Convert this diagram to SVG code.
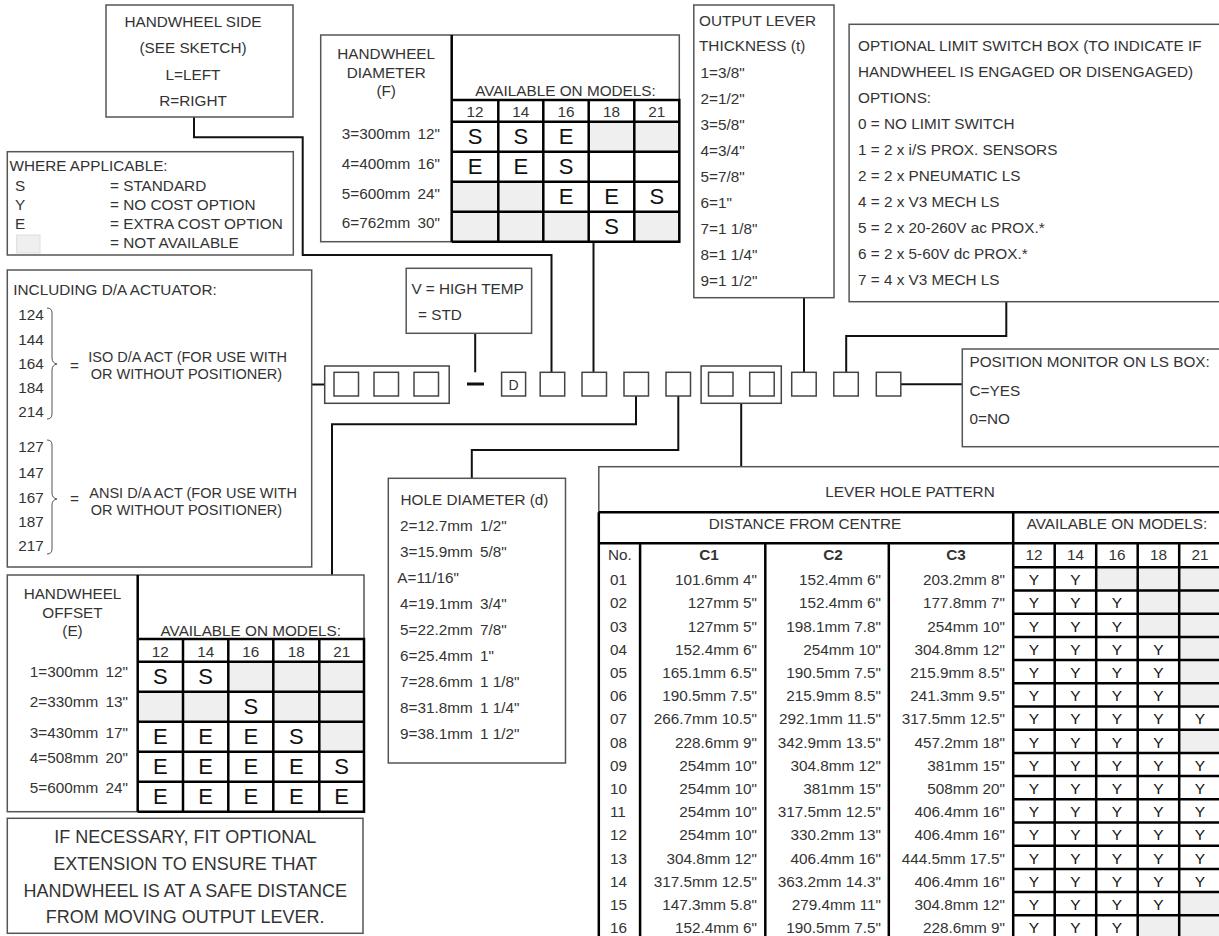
<svg xmlns="http://www.w3.org/2000/svg" width="1219" height="936" viewBox="0 0 1219 936">
<defs>
<style>
text{font-family:"Liberation Sans",Arial,Helvetica,sans-serif;font-size:15.3px;fill:#333}
.m{text-anchor:middle}
.e{text-anchor:end}
.b{font-weight:bold}
.s15{font-size:14.5px}
.L{font-size:22px;fill:#111;text-anchor:middle}
.Y{font-size:15.5px;fill:#111;text-anchor:middle}
.n{font-size:18px;text-anchor:middle}
.box{fill:#fff;stroke:#555;stroke-width:1.5}
.sq{fill:#fff;stroke:#444;stroke-width:1.5}
.g{fill:#efefef}
.k{fill:none;stroke:#000;stroke-width:2.5}
.conn{fill:none;stroke:#111;stroke-width:2}
.br{fill:none;stroke:#555;stroke-width:1}
</style>
</defs>
<rect width="1219" height="936" fill="#fff"/>

<g id="connectors" class="conn">
<polyline points="194,117 194,137.3 302.7,137.3 302.7,255 551.5,255 551.5,372.3"/>
<line x1="593.5" y1="241.7" x2="593.5" y2="372.3"/>
<line x1="475.2" y1="333.3" x2="475.2" y2="372.3"/>
<line x1="311.7" y1="384.5" x2="324.7" y2="384.5"/>
<polyline points="636,396 636,424.3 332,424.3 332,575"/>
<polyline points="678.3,396 678.3,450 471.8,450 471.8,478.3"/>
<line x1="741.2" y1="403.3" x2="741.2" y2="466.7"/>
<line x1="804" y1="297.7" x2="804" y2="372.3"/>
<polyline points="1006.3,301.7 1006.3,336 846.2,336 846.2,372.3"/>
<line x1="900.6" y1="384.3" x2="962.3" y2="384.3"/>
</g>

<g id="handwheel-side">
<rect class="box" x="106" y="5" width="187" height="112"/>
<text class="m" x="193" y="27">HANDWHEEL SIDE</text>
<text class="m" x="193" y="53">(SEE SKETCH)</text>
<text class="m" x="193" y="80">L=LEFT</text>
<text class="m" x="193" y="106">R=RIGHT</text>
</g>

<g id="legend">
<rect class="box" x="7.3" y="151.7" width="286" height="103.3"/>
<text x="9.5" y="170.5">WHERE APPLICABLE:</text>
<text x="15" y="190.5">S</text><text x="110" y="190.5">= STANDARD</text>
<text x="15" y="209.5">Y</text><text x="110" y="209.5">= NO COST OPTION</text>
<text x="15" y="228.5">E</text><text x="110" y="228.5">= EXTRA COST OPTION</text>
<rect x="16.7" y="235" width="23.3" height="18" fill="#efefef" stroke="#ddd" stroke-width="1"/>
<text x="110" y="248">= NOT AVAILABLE</text>
</g>

<g id="handwheel-diameter">
<rect class="box" x="320.7" y="35" width="358.6" height="206.7"/>
<rect class="g" x="588.7" y="121.7" width="90.6" height="30"/>
<rect class="g" x="451.7" y="181.7" width="91.6" height="30"/>
<rect class="g" x="451.7" y="211.7" width="137" height="30"/>
<rect class="g" x="634.3" y="211.7" width="45" height="30"/>
<path class="k" d="M451.7,35V241.7M451.7,100H679.3V241.7H451.7M451.7,121.7H679.3M451.7,151.7H679.3M451.7,181.7H679.3M451.7,211.7H679.3M498.3,100V241.7M543.3,100V241.7M588.7,100V241.7M634.3,100V241.7"/>
<text class="m" x="386.2" y="59.3">HANDWHEEL</text>
<text class="m" x="386.2" y="77.7">DIAMETER</text>
<text class="m" x="386.2" y="96">(F)</text>
<text class="m" x="565.5" y="96">AVAILABLE ON MODELS:</text>
<text class="m" x="475" y="116.7">12</text>
<text class="m" x="520.8" y="116.7">14</text>
<text class="m" x="566" y="116.7">16</text>
<text class="m" x="611.5" y="116.7">18</text>
<text class="m" x="656.8" y="116.7">21</text>
<text class="e" x="440" y="139">3=300mm <tspan dx="3">12"</tspan></text>
<text class="e" x="440" y="169">4=400mm <tspan dx="3">16"</tspan></text>
<text class="e" x="440" y="199">5=600mm <tspan dx="3">24"</tspan></text>
<text class="e" x="440" y="228">6=762mm <tspan dx="3">30"</tspan></text>
<text class="L" x="475" y="143.7">S</text>
<text class="L" x="520.8" y="143.7">S</text>
<text class="L" x="566" y="143.7">E</text>
<text class="L" x="475" y="173.7">E</text>
<text class="L" x="520.8" y="173.7">E</text>
<text class="L" x="566" y="173.7">S</text>
<text class="L" x="566" y="203.7">E</text>
<text class="L" x="611.5" y="203.7">E</text>
<text class="L" x="656.8" y="203.7">S</text>
<text class="L" x="611.5" y="233.7">S</text>
</g>

<g id="output-lever">
<rect class="box" x="693.8" y="5" width="140.2" height="292.7"/>
<text x="699" y="26">OUTPUT LEVER</text>
<text x="699" y="51">THICKNESS (t)</text>
<text x="700.6" y="77.5">1=3/8"</text>
<text x="700.6" y="103.5">2=1/2"</text>
<text x="700.6" y="129.5">3=5/8"</text>
<text x="700.6" y="155.5">4=3/4"</text>
<text x="700.6" y="181.5">5=7/8"</text>
<text x="700.6" y="207.5">6=1"</text>
<text x="700.6" y="233.5">7=1 1/8"</text>
<text x="700.6" y="259.5">8=1 1/4"</text>
<text x="700.6" y="285.5">9=1 1/2"</text>
</g>

<g id="limit-switch">
<rect class="box" x="849.1" y="24.3" width="380" height="277.4"/>
<text x="858" y="50.5">OPTIONAL LIMIT SWITCH BOX (TO INDICATE IF</text>
<text x="858" y="76.5">HANDWHEEL IS ENGAGED OR DISENGAGED)</text>
<text x="858" y="102.5">OPTIONS:</text>
<text x="858" y="128.5">0 = NO LIMIT SWITCH</text>
<text x="858" y="154.5">1 = 2 x i/S PROX. SENSORS</text>
<text x="858" y="180.5">2 = 2 x PNEUMATIC LS</text>
<text x="858" y="206.5">4 = 2 x V3 MECH LS</text>
<text x="858" y="232.5">5 = 2 x 20-260V ac PROX.*</text>
<text x="858" y="258.5">6 = 2 x 5-60V dc PROX.*</text>
<text x="858" y="284.5">7 = 4 x V3 MECH LS</text>
</g>

<g id="actuator">
<rect class="box" x="7.3" y="270" width="304.4" height="297"/>
<text x="13.3" y="295">INCLUDING D/A ACTUATOR:</text>
<text x="18.3" y="320">124</text>
<text x="18.3" y="344.5">144</text>
<text x="18.3" y="368.5">164</text>
<text x="18.3" y="392.5">184</text>
<text x="18.3" y="417">214</text>
<path class="br" d="M47,308Q52,308 52,313V358Q52,363 57,364Q52,365 52,370V414Q52,419 47,419"/>
<text x="70" y="371">=</text>
<text class="s15" x="88.3" y="362">ISO D/A ACT (FOR USE WITH</text>
<text class="s15" x="90.7" y="378.5">OR WITHOUT POSITIONER)</text>
<text x="18.3" y="452">127</text>
<text x="18.3" y="478">147</text>
<text x="18.3" y="503">167</text>
<text x="18.3" y="527">187</text>
<text x="18.3" y="551">217</text>
<path class="br" d="M47,440Q52,440 52,445V493Q52,498 57,499Q52,500 52,505V549Q52,554 47,554"/>
<text x="70" y="504">=</text>
<text class="s15" x="89.3" y="498">ANSI D/A ACT (FOR USE WITH</text>
<text class="s15" x="90.7" y="514.5">OR WITHOUT POSITIONER)</text>
</g>

<g id="high-temp">
<rect class="box" x="406.2" y="268.3" width="125.4" height="65"/>
<text x="411.4" y="294.3">V = HIGH TEMP</text>
<text x="418" y="320">= STD</text>
</g>

<g id="code-actuator">
<rect class="sq" x="324.7" y="366" width="124.5" height="37.3"/>
<rect class="sq" x="334" y="372.3" width="24.5" height="23.7"/>
<rect class="sq" x="374" y="372.3" width="24.5" height="23.7"/>
<rect class="sq" x="414" y="372.3" width="24.5" height="23.7"/>
</g>
<g id="code-dash">
<line x1="467" y1="384" x2="484" y2="384" stroke="#111" stroke-width="3"/>
</g>
<g id="code-d">
<rect class="sq" x="501.6" y="372.3" width="24" height="23.7"/>
<text class="m" x="513.6" y="389.5" style="font-size:14px">D</text>
</g>
<g id="code-side"><rect class="sq" x="540.2" y="372.3" width="24.5" height="23.7"/></g>
<g id="code-diameter"><rect class="sq" x="582" y="372.3" width="24.5" height="23.7"/></g>
<g id="code-offset"><rect class="sq" x="624" y="372.3" width="24.5" height="23.7"/></g>
<g id="code-hole"><rect class="sq" x="666" y="372.3" width="24.5" height="23.7"/></g>
<g id="code-pattern">
<rect class="sq" x="701.1" y="366" width="80.2" height="37.3"/>
<rect class="sq" x="708.5" y="372.3" width="24.5" height="23.7"/>
<rect class="sq" x="749.7" y="372.3" width="24.5" height="23.7"/>
</g>
<g id="code-thickness"><rect class="sq" x="791.7" y="372.3" width="24.5" height="23.7"/></g>
<g id="code-limit"><rect class="sq" x="833.8" y="372.3" width="24.5" height="23.7"/></g>
<g id="code-monitor"><rect class="sq" x="876.3" y="372.3" width="24.5" height="23.7"/></g>

<g id="position-monitor">
<rect class="box" x="962.3" y="349" width="270" height="97.7"/>
<text x="969.5" y="367">POSITION MONITOR ON LS BOX:</text>
<text x="969.5" y="396">C=YES</text>
<text x="969.5" y="424">0=NO</text>
</g>

<g id="hole-diameter">
<rect class="box" x="388.3" y="478.3" width="177.2" height="284.7"/>
<text x="400.5" y="505">HOLE DIAMETER (d)</text>
<text x="400" y="531">2=12.7mm <tspan dx="3">1/2"</tspan></text>
<text x="400" y="557">3=15.9mm <tspan dx="3">5/8"</tspan></text>
<text x="397.3" y="583">A=11/16"</text>
<text x="400" y="609">4=19.1mm <tspan dx="3">3/4"</tspan></text>
<text x="400" y="635">5=22.2mm <tspan dx="3">7/8"</tspan></text>
<text x="400" y="661">6=25.4mm <tspan dx="3">1"</tspan></text>
<text x="400" y="687">7=28.6mm <tspan dx="3">1 1/8"</tspan></text>
<text x="400" y="713">8=31.8mm <tspan dx="3">1 1/4"</tspan></text>
<text x="400" y="739">9=38.1mm <tspan dx="3">1 1/2"</tspan></text>
</g>

<g id="handwheel-offset">
<rect class="box" x="7.3" y="575" width="356.7" height="236.7"/>
<rect class="g" x="228.3" y="661.7" width="135.7" height="30"/>
<rect class="g" x="137.7" y="691.7" width="90.6" height="30"/>
<rect class="g" x="273.3" y="691.7" width="90.7" height="30"/>
<rect class="g" x="319.3" y="721.7" width="44.7" height="30"/>
<path class="k" d="M137.7,575V811.7M137.7,639H364V811.7H137.7M137.7,661.7H364M137.7,691.7H364M137.7,721.7H364M137.7,751.7H364M137.7,781.7H364M183,639V811.7M228.3,639V811.7M273.3,639V811.7M319.3,639V811.7"/>
<text class="m" x="72.5" y="599.3">HANDWHEEL</text>
<text class="m" x="72.5" y="617.5">OFFSET</text>
<text class="m" x="72.5" y="636">(E)</text>
<text class="m" x="250.8" y="636">AVAILABLE ON MODELS:</text>
<text class="m" x="160.3" y="656.7">12</text>
<text class="m" x="205.7" y="656.7">14</text>
<text class="m" x="250.8" y="656.7">16</text>
<text class="m" x="296.3" y="656.7">18</text>
<text class="m" x="341.7" y="656.7">21</text>
<text class="e" x="128" y="677.3">1=300mm <tspan dx="3">12"</tspan></text>
<text class="e" x="128" y="707.3">2=330mm <tspan dx="3">13"</tspan></text>
<text class="e" x="128" y="738">3=430mm <tspan dx="3">17"</tspan></text>
<text class="e" x="128" y="763">4=508mm <tspan dx="3">20"</tspan></text>
<text class="e" x="128" y="792.5">5=600mm <tspan dx="3">24"</tspan></text>
<text class="L" x="160.3" y="683.7">S</text>
<text class="L" x="205.7" y="683.7">S</text>
<text class="L" x="250.8" y="713.7">S</text>
<text class="L" x="160.3" y="743.7">E</text>
<text class="L" x="205.7" y="743.7">E</text>
<text class="L" x="250.8" y="743.7">E</text>
<text class="L" x="296.3" y="743.7">S</text>
<text class="L" x="160.3" y="773.7">E</text>
<text class="L" x="205.7" y="773.7">E</text>
<text class="L" x="250.8" y="773.7">E</text>
<text class="L" x="296.3" y="773.7">E</text>
<text class="L" x="341.7" y="773.7">S</text>
<text class="L" x="160.3" y="803.7">E</text>
<text class="L" x="205.7" y="803.7">E</text>
<text class="L" x="250.8" y="803.7">E</text>
<text class="L" x="296.3" y="803.7">E</text>
<text class="L" x="341.7" y="803.7">E</text>
</g>

<g id="note">
<rect class="box" x="7.3" y="818.3" width="355.7" height="115"/>
<text class="n" x="185.2" y="843.3">IF NECESSARY, FIT OPTIONAL</text>
<text class="n" x="185.2" y="870">EXTENSION TO ENSURE THAT</text>
<text class="n" x="185.2" y="896.7">HANDWHEEL IS AT A SAFE DISTANCE</text>
<text class="n" x="185.2" y="923.3">FROM MOVING OUTPUT LEVER.</text>
</g>

<g id="lever-hole-pattern">
<rect class="box" x="598.8" y="466.7" width="630" height="480"/>
<rect class="g" x="1096.2" y="567.3" width="124.5" height="23.2"/>
<rect class="g" x="1137.7" y="590.5" width="83" height="23.2"/>
<rect class="g" x="1137.7" y="613.7" width="83" height="23.2"/>
<rect class="g" x="1179.2" y="636.9" width="41.5" height="23.2"/>
<rect class="g" x="1179.2" y="660.1" width="41.5" height="23.2"/>
<rect class="g" x="1179.2" y="683.3" width="41.5" height="23.2"/>
<rect class="g" x="1179.2" y="729.7" width="41.5" height="23.2"/>
<rect class="g" x="1179.2" y="892.1" width="41.5" height="23.2"/>
<rect class="g" x="1137.7" y="915.3" width="83" height="23.2"/>
<path class="k" d="M598.8,512.3H1225M598.8,543.3H1225M598.8,512.3V940M640.1,543.3V940M765.3,543.3V940M888.8,543.3V940M1013.2,512.3V940M1054.7,543.3V940M1096.2,543.3V940M1137.7,543.3V940M1179.2,543.3V940M1220.7,543.3V940M1013.2,567.3H1225M1013.2,590.5H1225M1013.2,613.7H1225M1013.2,636.9H1225M1013.2,660.1H1225M1013.2,683.3H1225M1013.2,706.5H1225M1013.2,729.7H1225M1013.2,752.9H1225M1013.2,776.1H1225M1013.2,799.3H1225M1013.2,822.5H1225M1013.2,845.7H1225M1013.2,868.9H1225M1013.2,892.1H1225M1013.2,915.3H1225"/>
<text class="m" x="910" y="497">LEVER HOLE PATTERN</text>
<text class="m" x="805" y="529">DISTANCE FROM CENTRE</text>
<text class="m" x="1117" y="529">AVAILABLE ON MODELS:</text>
<text x="608" y="560">No.</text>
<text class="m b" x="709" y="560">C1</text>
<text class="m b" x="833" y="560">C2</text>
<text class="m b" x="956" y="560">C3</text>
<text class="m" x="1034" y="560">12</text>
<text class="m" x="1075.5" y="560">14</text>
<text class="m" x="1117" y="560">16</text>
<text class="m" x="1158.5" y="560">18</text>
<text class="m" x="1200" y="560">21</text>

<text x="610" y="585.1">01</text><text class="e" x="757" y="585.1">101.6mm 4"</text><text class="e" x="881" y="585.1">152.4mm 6"</text><text class="e" x="1005" y="585.1">203.2mm 8"</text>
<text class="Y" x="1034" y="585.1">Y</text><text class="Y" x="1075.5" y="585.1">Y</text>

<text x="610" y="608.3">02</text><text class="e" x="757" y="608.3">127mm 5"</text><text class="e" x="881" y="608.3">152.4mm 6"</text><text class="e" x="1005" y="608.3">177.8mm 7"</text>
<text class="Y" x="1034" y="608.3">Y</text><text class="Y" x="1075.5" y="608.3">Y</text><text class="Y" x="1117" y="608.3">Y</text>

<text x="610" y="631.5">03</text><text class="e" x="757" y="631.5">127mm 5"</text><text class="e" x="881" y="631.5">198.1mm 7.8"</text><text class="e" x="1005" y="631.5">254mm 10"</text>
<text class="Y" x="1034" y="631.5">Y</text><text class="Y" x="1075.5" y="631.5">Y</text><text class="Y" x="1117" y="631.5">Y</text>

<text x="610" y="654.7">04</text><text class="e" x="757" y="654.7">152.4mm 6"</text><text class="e" x="881" y="654.7">254mm 10"</text><text class="e" x="1005" y="654.7">304.8mm 12"</text>
<text class="Y" x="1034" y="654.7">Y</text><text class="Y" x="1075.5" y="654.7">Y</text><text class="Y" x="1117" y="654.7">Y</text><text class="Y" x="1158.5" y="654.7">Y</text>

<text x="610" y="677.9">05</text><text class="e" x="757" y="677.9">165.1mm 6.5"</text><text class="e" x="881" y="677.9">190.5mm 7.5"</text><text class="e" x="1005" y="677.9">215.9mm 8.5"</text>
<text class="Y" x="1034" y="677.9">Y</text><text class="Y" x="1075.5" y="677.9">Y</text><text class="Y" x="1117" y="677.9">Y</text><text class="Y" x="1158.5" y="677.9">Y</text>

<text x="610" y="701.1">06</text><text class="e" x="757" y="701.1">190.5mm 7.5"</text><text class="e" x="881" y="701.1">215.9mm 8.5"</text><text class="e" x="1005" y="701.1">241.3mm 9.5"</text>
<text class="Y" x="1034" y="701.1">Y</text><text class="Y" x="1075.5" y="701.1">Y</text><text class="Y" x="1117" y="701.1">Y</text><text class="Y" x="1158.5" y="701.1">Y</text>

<text x="610" y="724.3">07</text><text class="e" x="757" y="724.3">266.7mm 10.5"</text><text class="e" x="881" y="724.3">292.1mm 11.5"</text><text class="e" x="1005" y="724.3">317.5mm 12.5"</text>
<text class="Y" x="1034" y="724.3">Y</text><text class="Y" x="1075.5" y="724.3">Y</text><text class="Y" x="1117" y="724.3">Y</text><text class="Y" x="1158.5" y="724.3">Y</text><text class="Y" x="1200" y="724.3">Y</text>

<text x="610" y="747.5">08</text><text class="e" x="757" y="747.5">228.6mm 9"</text><text class="e" x="881" y="747.5">342.9mm 13.5"</text><text class="e" x="1005" y="747.5">457.2mm 18"</text>
<text class="Y" x="1034" y="747.5">Y</text><text class="Y" x="1075.5" y="747.5">Y</text><text class="Y" x="1117" y="747.5">Y</text><text class="Y" x="1158.5" y="747.5">Y</text>

<text x="610" y="770.7">09</text><text class="e" x="757" y="770.7">254mm 10"</text><text class="e" x="881" y="770.7">304.8mm 12"</text><text class="e" x="1005" y="770.7">381mm 15"</text>
<text class="Y" x="1034" y="770.7">Y</text><text class="Y" x="1075.5" y="770.7">Y</text><text class="Y" x="1117" y="770.7">Y</text><text class="Y" x="1158.5" y="770.7">Y</text><text class="Y" x="1200" y="770.7">Y</text>

<text x="610" y="793.9">10</text><text class="e" x="757" y="793.9">254mm 10"</text><text class="e" x="881" y="793.9">381mm 15"</text><text class="e" x="1005" y="793.9">508mm 20"</text>
<text class="Y" x="1034" y="793.9">Y</text><text class="Y" x="1075.5" y="793.9">Y</text><text class="Y" x="1117" y="793.9">Y</text><text class="Y" x="1158.5" y="793.9">Y</text><text class="Y" x="1200" y="793.9">Y</text>

<text x="610" y="817.1">11</text><text class="e" x="757" y="817.1">254mm 10"</text><text class="e" x="881" y="817.1">317.5mm 12.5"</text><text class="e" x="1005" y="817.1">406.4mm 16"</text>
<text class="Y" x="1034" y="817.1">Y</text><text class="Y" x="1075.5" y="817.1">Y</text><text class="Y" x="1117" y="817.1">Y</text><text class="Y" x="1158.5" y="817.1">Y</text><text class="Y" x="1200" y="817.1">Y</text>

<text x="610" y="840.3">12</text><text class="e" x="757" y="840.3">254mm 10"</text><text class="e" x="881" y="840.3">330.2mm 13"</text><text class="e" x="1005" y="840.3">406.4mm 16"</text>
<text class="Y" x="1034" y="840.3">Y</text><text class="Y" x="1075.5" y="840.3">Y</text><text class="Y" x="1117" y="840.3">Y</text><text class="Y" x="1158.5" y="840.3">Y</text><text class="Y" x="1200" y="840.3">Y</text>

<text x="610" y="863.5">13</text><text class="e" x="757" y="863.5">304.8mm 12"</text><text class="e" x="881" y="863.5">406.4mm 16"</text><text class="e" x="1005" y="863.5">444.5mm 17.5"</text>
<text class="Y" x="1034" y="863.5">Y</text><text class="Y" x="1075.5" y="863.5">Y</text><text class="Y" x="1117" y="863.5">Y</text><text class="Y" x="1158.5" y="863.5">Y</text><text class="Y" x="1200" y="863.5">Y</text>

<text x="610" y="886.7">14</text><text class="e" x="757" y="886.7">317.5mm 12.5"</text><text class="e" x="881" y="886.7">363.2mm 14.3"</text><text class="e" x="1005" y="886.7">406.4mm 16"</text>
<text class="Y" x="1034" y="886.7">Y</text><text class="Y" x="1075.5" y="886.7">Y</text><text class="Y" x="1117" y="886.7">Y</text><text class="Y" x="1158.5" y="886.7">Y</text><text class="Y" x="1200" y="886.7">Y</text>

<text x="610" y="909.9">15</text><text class="e" x="757" y="909.9">147.3mm 5.8"</text><text class="e" x="881" y="909.9">279.4mm 11"</text><text class="e" x="1005" y="909.9">304.8mm 12"</text>
<text class="Y" x="1034" y="909.9">Y</text><text class="Y" x="1075.5" y="909.9">Y</text><text class="Y" x="1117" y="909.9">Y</text><text class="Y" x="1158.5" y="909.9">Y</text>

<text x="610" y="933.1">16</text><text class="e" x="757" y="933.1">152.4mm 6"</text><text class="e" x="881" y="933.1">190.5mm 7.5"</text><text class="e" x="1005" y="933.1">228.6mm 9"</text>
<text class="Y" x="1034" y="933.1">Y</text><text class="Y" x="1075.5" y="933.1">Y</text><text class="Y" x="1117" y="933.1">Y</text>
</g>
</svg>
